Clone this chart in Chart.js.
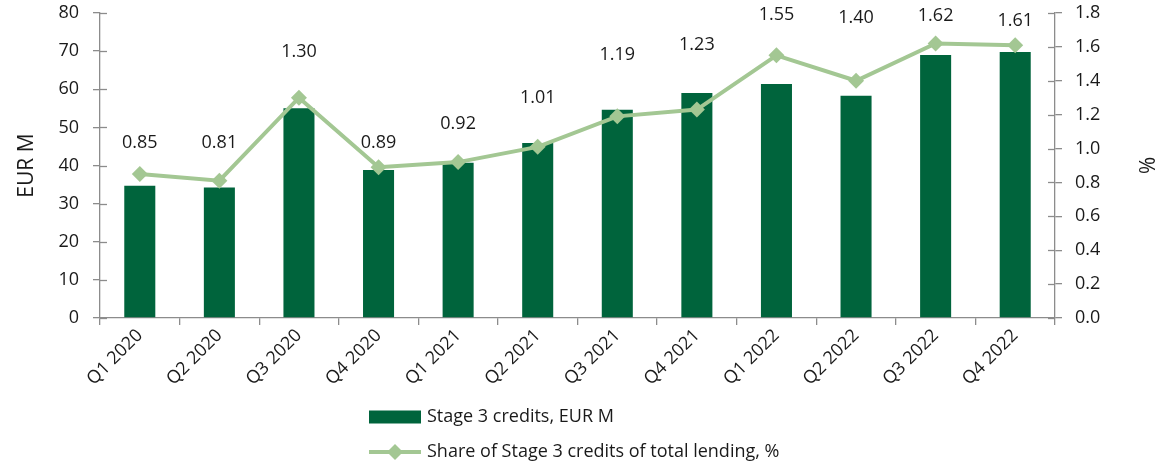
<!DOCTYPE html>
<html><head><meta charset="utf-8">
<script src="https://cdn.jsdelivr.net/npm/chart.js@4/dist/chart.umd.min.js"></script>
<style>html,body{margin:0;padding:0;background:#fff}#wrap{width:1173px;height:467px;position:relative}</style>
</head><body><div id="wrap"><canvas id="c" width="1173" height="467"></canvas></div>
<script>
const categories = ['Q1 2020','Q2 2020','Q3 2020','Q4 2020','Q1 2021','Q2 2021','Q3 2021','Q4 2021','Q1 2022','Q2 2022','Q3 2022','Q4 2022'];
const stage3Credits = [34.7, 34.2, 55.0, 38.8, 40.7, 45.9, 54.6, 59.0, 61.4, 58.3, 69.0, 69.8];
const stage3Share = [0.85, 0.81, 1.30, 0.89, 0.92, 1.01, 1.19, 1.23, 1.55, 1.40, 1.62, 1.61];
const seriesNames = ['Stage 3 credits, EUR M', 'Share of Stage 3 credits of total lending, %'];
const axisTitles = ['EUR M', '%'];
const leftAxisRange = [0, 80, 10];
const rightAxisRange = [0, 1.8, 0.2];

const BAR = '#00643C', LINE = '#A3C793', AXIS = '#8C8C8C', TXT = '#1a1a1a';
const FONT = "'Open Sans', 'DejaVu Sans', sans-serif";

const valueLabels = {
  id: 'valueLabels',
  afterDatasetsDraw(chart, args, opts) {
    const meta = chart.getDatasetMeta(1);
    const ctx = chart.ctx;
    ctx.save();
    ctx.font = '18px ' + FONT;
    ctx.fillStyle = TXT;
    ctx.textAlign = 'center';
    ctx.textBaseline = 'middle';
    meta.data.forEach((el, i) => {
      const v = chart.data.datasets[1].data[i];
      ctx.fillText(v.toFixed(2), el.x, el.y - opts.lift[i]);
    });
    ctx.restore();
  }
};

const innerTicks = {
  id: 'innerTicks',
  afterDraw(chart) {
    const ctx = chart.ctx;
    ctx.save();
    ctx.strokeStyle = AXIS;
    ctx.lineWidth = 1.3;
    ['y', 'y1'].forEach(id => {
      const s = chart.scales[id];
      const x = id === 'y' ? s.right : s.left;
      const dir = id === 'y' ? 1 : -1;
      s.ticks.forEach(t => {
        const y = Math.round(s.getPixelForValue(t.value)) + 0.5;
        ctx.beginPath();
        ctx.moveTo(x, y);
        ctx.lineTo(x + dir * 7, y);
        ctx.stroke();
      });
    });
    ctx.restore();
  }
};

const stackedLegend = {
  id: 'stackedLegend',
  afterDraw(chart, args, opts) {
    const ctx = chart.ctx;
    const x0 = chart.chartArea.left + opts.offsetX;
    const y0 = chart.chartArea.bottom + opts.offsetY;
    ctx.save();
    ctx.font = '18px ' + FONT;
    ctx.fillStyle = TXT;
    ctx.textBaseline = 'middle';
    chart.data.datasets.forEach((ds, i) => {
      const cy = y0 + i * opts.rowGap;
      if (ds.type === 'bar') {
        ctx.fillStyle = ds.backgroundColor;
        ctx.fillRect(x0, cy - 6.5, 52, 13);
      } else {
        ctx.strokeStyle = ds.borderColor;
        ctx.lineWidth = 4;
        ctx.beginPath();
        ctx.moveTo(x0, cy);
        ctx.lineTo(x0 + 52, cy);
        ctx.stroke();
        ctx.fillStyle = ds.borderColor;
        ctx.beginPath();
        ctx.moveTo(x0 + 26, cy - 8);
        ctx.lineTo(x0 + 34, cy);
        ctx.lineTo(x0 + 26, cy + 8);
        ctx.lineTo(x0 + 18, cy);
        ctx.closePath();
        ctx.fill();
      }
      ctx.fillStyle = TXT;
      ctx.fillText(ds.label, x0 + 58, cy);
    });
    ctx.restore();
  }
};

function fitY(width) {
  return function (s) { s.width = width; s.paddingTop = 0; s.paddingBottom = 0; };
}

new Chart(document.getElementById('c'), {
  type: 'bar',
  data: {
    labels: categories,
    datasets: [
      {
        type: 'bar', label: seriesNames[0], data: stage3Credits, yAxisID: 'y',
        backgroundColor: BAR, barPercentage: 0.39, categoryPercentage: 1.0, order: 1
      },
      {
        type: 'line', label: seriesNames[1], data: stage3Share, yAxisID: 'y1',
        borderColor: LINE, backgroundColor: LINE, borderWidth: 4, tension: 0,
        pointStyle: 'rectRot', pointRadius: 8, pointBorderWidth: 0,
        pointBackgroundColor: LINE, order: 0
      }
    ]
  },
  options: {
    responsive: false,
    animation: false,
    layout: { padding: { top: 13, bottom: 69, left: 0, right: 0 } },
    plugins: {
      legend: { display: false },
      tooltip: { enabled: false },
      valueLabels: { lift: [31, 38, 46, 24, 38, 49, 61, 65, 40, 63, 28, 24] },
      stackedLegend: { offsetX: 269, offsetY: 99, rowGap: 35 }
    },
    scales: {
      x: {
        grid: { display: true, drawOnChartArea: false, offset: true, color: AXIS, lineWidth: 1.3, tickLength: 7 },
        border: { color: AXIS, width: 1.3 },
        ticks: { minRotation: 45, maxRotation: 45, color: TXT, font: { size: 18, family: FONT }, padding: 0 },
        afterFit(s) { s.height = 80; s.paddingLeft = 0; s.paddingRight = 0; }
      },
      y: {
        position: 'left', min: leftAxisRange[0], max: leftAxisRange[1],
        grid: { drawOnChartArea: false, color: AXIS, lineWidth: 1.3, tickLength: 7 },
        border: { color: AXIS, width: 1.3 },
        ticks: { stepSize: leftAxisRange[2], color: TXT, font: { size: 18, family: FONT }, padding: 14 },
        title: { display: true, text: axisTitles[0], color: TXT, font: { size: 21, family: FONT }, padding: { top: 14, bottom: 0 } },
        afterFit: fitY(100)
      },
      y1: {
        position: 'right', min: rightAxisRange[0], max: rightAxisRange[1],
        grid: { drawOnChartArea: false, color: AXIS, lineWidth: 1.3, tickLength: 7 },
        border: { color: AXIS, width: 1.3 },
        ticks: { stepSize: rightAxisRange[2], color: TXT, font: { size: 18, family: FONT }, padding: 13,
          callback: v => Number(v).toFixed(1) },
        title: { display: true, text: axisTitles[1], color: TXT, font: { size: 21, family: FONT }, padding: { top: 15, bottom: 0 } },
        afterFit: fitY(118)
      }
    }
  },
  plugins: [valueLabels, innerTicks, stackedLegend]
});
</script></body></html>
